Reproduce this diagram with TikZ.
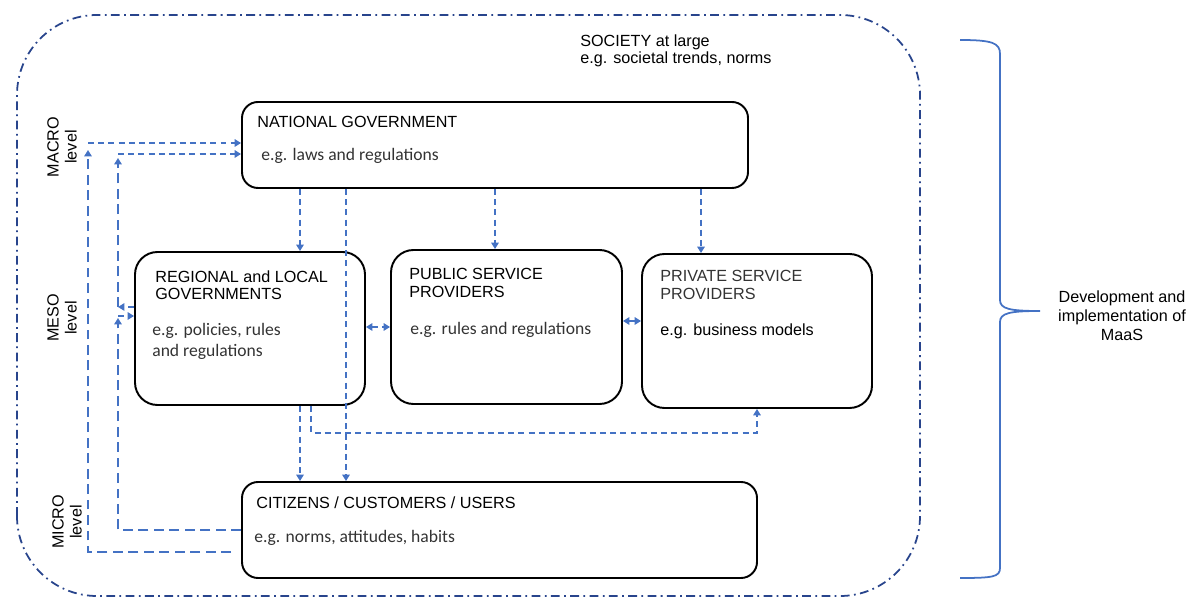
\documentclass[tikz,border=0pt]{standalone}
\usepackage{fontspec}
\setmainfont{Liberation Sans}
\newfontfamily\egfont{Carlito}
\usetikzlibrary{arrows.meta}
\definecolor{linkblue}{RGB}{68,114,196}
\definecolor{frameblue}{RGB}{40,68,140}

\begin{document}
\begin{tikzpicture}[
    box/.style={draw, line width=1.1pt, inner sep=0pt},
    ttl/.style={anchor=north west, inner sep=0pt, align=left, font=\fontsize{9.2}{10.2}\selectfont},
    eg/.style={anchor=north west, inner sep=0pt, align=left, text=black!80, font=\egfont\fontsize{10}{12}\selectfont},
    link/.style={draw=linkblue, line width=1pt, dash pattern=on 3.4pt off 2.4pt, -{Triangle[width=4.2pt,length=3.6pt]}},
    longlink/.style={link, dash pattern=on 5.6pt off 3.2pt},
    both/.style={link, {Triangle[width=4.2pt,length=3.6pt]}-{Triangle[width=4.2pt,length=3.6pt]}},
    lvl/.style={rotate=90, align=center, inner sep=0pt, font=\fontsize{9.2}{10.2}\selectfont}
  ]

  \useasboundingbox (0,0) rectangle (23.76,11.98);

  %society frame
  \draw[frameblue, line width=1pt, rounded corners=1.6cm, dash pattern=on 5pt off 2.5pt on 1pt off 2.5pt] (0.34,0.06) rectangle (18.4,11.68);
  \node[ttl] (society) at (11.6,11.3) {SOCIETY at large\\e.g. societal trends, norms};

  %actor boxes
  \node[box, rounded corners=0.32cm, minimum width=10.12cm, minimum height=1.72cm] (natgov) at (9.9,9.08) {};
  \node[box, rounded corners=0.45cm, minimum width=4.6cm, minimum height=3.06cm] (regional) at (5.0,5.41) {};
  \node[box, rounded corners=0.45cm, minimum width=4.62cm, minimum height=3.08cm] (public) at (10.13,5.44) {};
  \node[box, rounded corners=0.45cm, minimum width=4.6cm, minimum height=3.08cm] (private) at (15.14,5.36) {};
  \node[box, rounded corners=0.32cm, minimum width=10.3cm, minimum height=1.92cm] (citizens) at (9.99,1.38) {};

  %box texts
  \node[ttl] (natgovT) at (5.14,9.66) {NATIONAL GOVERNMENT};
  \node[eg] (natgovE) at (5.22,9.03) {e.g. laws and regulations};
  \node[ttl] (regionalT) at (3.1,6.58) {REGIONAL and LOCAL\\GOVERNMENTS};
  \node[eg] (regionalE) at (3.04,5.53) {e.g. policies, rules\\and regulations};
  \node[ttl] (publicT) at (8.18,6.62) {PUBLIC SERVICE\\PROVIDERS};
  \node[eg] (publicE) at (8.2,5.55) {e.g. rules and regulations};
  \node[ttl, text=black!80] (privateT) at (13.2,6.58) {PRIVATE SERVICE\\PROVIDERS};
  \node[ttl] (privateE) at (13.2,5.51) {e.g. business models};
  \node[ttl] (citizensT) at (5.12,2.05) {CITIZENS / CUSTOMERS / USERS};
  \node[eg] (citizensE) at (5.08,1.39) {e.g. norms, attitudes, habits};

  %levels
  \node[lvl] (macro) at (1.24,9.04) {MACRO\\level};
  \node[lvl] (meso) at (1.24,5.62) {MESO\\level};
  \node[lvl] (micro) at (1.34,1.54) {MICRO\\level};

  %lanes
  \coordinate (laneA) at (6.0,0);
  \coordinate (laneB) at (6.92,0);
  \coordinate (laneC) at (6.22,3.32);
  \coordinate (laneD) at (9.9,0);
  \coordinate (laneE) at (14.02,0);
  \coordinate (rowA) at (0,5.44);
  \coordinate (rowB) at (0,5.56);

  %top-down arrows
  \draw[link] (laneA |- natgov.south) -- (laneA |- regional.north);
  \draw[link] (laneB |- natgov.south) -- (laneB |- citizens.north);
  \draw[link] (laneD |- natgov.south) -- (laneD |- public.north);
  \draw[link] (laneE |- natgov.south) -- (laneE |- private.north);
  \draw[link] (laneA |- regional.south) -- (laneA |- citizens.north);
  \draw[link] (laneC |- regional.south) -- (laneC) -| (private.south);

  %side arrows
  \draw[both] (regional.east |- rowA) -- (public.west |- rowA);
  \draw[both] (public.east |- rowB) -- (private.west |- rowB);

  %feedback from citizens
  \coordinate (outerTop) at (1.76,8.98);
  \coordinate (outerIn) at (1.76,9.12);
  \coordinate (innerTop) at (2.36,8.82);
  \coordinate (innerIn) at (2.36,8.9);
  \coordinate (innerMid) at (2.36,5.84);
  \coordinate (innerLow) at (2.36,5.62);
  \coordinate (innerOut) at (2.36,5.66);

  \draw[longlink] ([xshift=-0.2cm,yshift=-0.44cm]citizens.west) -| (outerTop);
  \draw[link] (outerIn) -- (outerIn -| natgov.west);
  \draw[longlink] (citizens.west) -| (innerLow);
  \draw[link] (innerOut) -- (innerOut -| regional.west);
  \draw[link] (innerMid -| regional.west) -- (innerMid);
  \draw[longlink] (innerMid) -- (innerTop);
  \draw[link] (innerIn) -- (innerIn -| natgov.west);

  %brace
  \draw[linkblue, line width=1pt] (19.2,11.18) .. controls (19.85,11.18) and (20,11.12) .. (20,10.9) -- (20,5.98)
    .. controls (20,5.8) and (20.2,5.76) .. (20.8,5.76) .. controls (20.2,5.76) and (20,5.72) .. (20,5.54)
    -- (20,0.62) .. controls (20,0.44) and (19.85,0.42) .. (19.2,0.42);
  \node[align=center, inner sep=0pt, font=\fontsize{9.2}{10.8}\selectfont] (maas) at (22.44,5.66) {Development and\\implementation of\\MaaS};
\end{tikzpicture}
\end{document}
